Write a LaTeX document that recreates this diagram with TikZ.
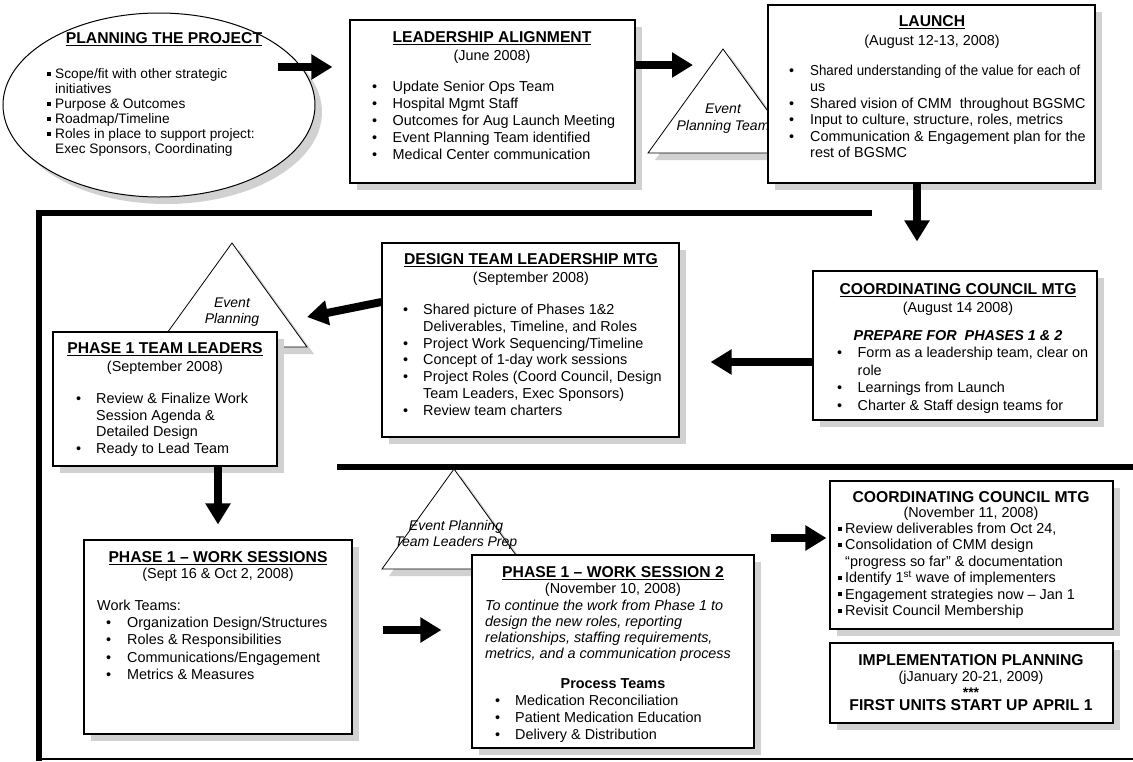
\documentclass[tikz,border=0pt]{standalone}
\usepackage{fontspec}
\usepackage{graphicx}
\setmainfont{Liberation Sans}
\usetikzlibrary{arrows.meta,shadows,shapes.geometric}
\newcommand\bu{\makebox[20.5pt][l]{\textbullet}}
\newcommand\bux{\makebox[21pt][l]{\textbullet}}
\newcommand\ind{\hspace*{20.5pt}}
\newcommand\sq{\makebox[8pt][l]{\rule[2.6pt]{4pt}{4pt}}}
\newcommand\sqind{\hspace*{8pt}}
\newcommand\sqn{\makebox[7pt][l]{\rule[2.6pt]{4pt}{4pt}}}
\newcommand\sqnind{\hspace*{7pt}}
\begin{document}
\begin{tikzpicture}[x=1pt,y=-1pt,
  shadowed/.style={drop shadow={shadow xshift=7pt, shadow yshift=-7pt, fill=black!18, opacity=1}},
  box/.style={draw, line width=1.1pt, fill=white, inner sep=0, rectangle, shadowed},
  body/.style={inner sep=0, align=left, anchor=north west, font=\fontsize{14.4}{16.8}\selectfont},
  ttl/.style={inner sep=0, anchor=base, font=\fontsize{15.7}{18}\selectfont\bfseries},
  sub/.style={inner sep=0, anchor=base, font=\fontsize{14.4}{16.8}\selectfont},
  fat/.style={line width=8pt, -{Triangle[length=21pt,width=24pt]}},
  barline/.style={line width=6.5pt},
  tri/.style={draw, line width=0.8pt, fill=white, shadowed},
  tlab/.style={inner sep=0, anchor=base, font=\fontsize{14}{16}\selectfont\itshape},
]
\useasboundingbox (0,0) rectangle (1133,761);

% frame lines
\draw[barline] (39,761) -- (39,213) -- (872,213);
\draw[line width=2pt] (39,759) -- (1133,759);
\draw[barline] (337,467) -- (1133,467);

% ---------- Planning the project ----------
\node[ellipse, draw, line width=1pt, fill=white, minimum width=312, minimum height=184, inner sep=0, shadowed] (plan) at (159,105) {};
\node[ttl] (planT) at (164,43.6) {\underline{PLANNING THE PROJECT}};
\node[body, font=\fontsize{13.7}{15}\selectfont] (planB) at (47,68) {\sq Scope/fit with other strategic\\ \sqind initiatives\\ \sq Purpose \& Outcomes\\ \sq Roadmap/Timeline\\ \sq Roles in place to support project:\\ \sqind Exec Sponsors, Coordinating};

% ---------- Leadership alignment ----------
\node[box, minimum width=285, minimum height=163] (lead) at (492.5,101.5) {};
\node[ttl] (leadT) at (492,42.6) {\underline{LEADERSHIP ALIGNMENT}};
\node[sub] (leadD) at (492,60) {(June 2008)};
\node[body, font=\fontsize{14.4}{17}\selectfont] (leadB) at (372,80.8) {\bu Update Senior Ops Team\\ \bu Hospital Mgmt Staff\\ \bu Outcomes for Aug Launch Meeting\\ \bu Event Planning Team identified\\ \bu Medical Center communication};

% ---------- Triangle 1 ----------
\coordinate (t1a) at (723,49);
\coordinate (t1r) at (798,153);
\coordinate (t1l) at (648,153);
\coordinate (t1in) at (693,65);
\draw[tri] (t1a) -- (t1r) -- (t1l) -- cycle;
\node[tlab] (t1x) at (723,113) {Event};
\node[tlab] (t1y) at (723,130) {Planning Team};

% ---------- Launch ----------
\node[box, minimum width=327, minimum height=178] (launch) at (931.5,94) {};
\node[ttl] (launchT) at (932,26.6) {\underline{LAUNCH}};
\node[sub] (launchD) at (932,45) {(August 12-13, 2008)};
\node[body, font=\fontsize{14.4}{16.5}\selectfont] (launchB) at (789,64.8) {\bux \scalebox{0.925}[1]{Shared understanding of the value for each of}\\ \hspace*{21pt}us\\ \bux Shared vision of CMM \ throughout BGSMC\\ \bux Input to culture, structure, roles, metrics\\ \bux Communication \& Engagement plan for the\\ \hspace*{21pt}rest of BGSMC};

% top arrows
\draw[fat] ([shift={(-38,-38)}]plan.east) -- ([shift={(-17,-34.5)}]lead.west);
\draw[fat] ([shift={(0,-36.5)}]lead.east) -- (t1in);

% ---------- Coordinating council Aug ----------
\node[box, minimum width=284, minimum height=149] (ccA) at (955,345.5) {};
\node[ttl] (ccAT) at (958,294.6) {\underline{COORDINATING COUNCIL MTG}};
\node[sub] (ccAD) at (958,312) {(August 14 2008)};
\node[sub, font=\fontsize{14.4}{16.8}\selectfont\bfseries\itshape] (ccAP) at (958,340.2) {PREPARE FOR \ PHASES 1 \& 2};
\node[body, font=\fontsize{14.4}{17.7}\selectfont] (ccAB) at (837,346.8) {\bu Form as a leadership team, clear on\\ \ind role\\ \bu Learnings from Launch\\ \bu Charter \& Staff design teams for};

\draw[fat] ([shift={(-14.5,0)}]launch.south) -- ([shift={(-38,-29)}]ccA.north);

% ---------- Design team leadership ----------
\node[box, minimum width=297, minimum height=194] (design) at (530.5,340) {};
\node[ttl] (designT) at (531,264.6) {\underline{DESIGN TEAM LEADERSHIP MTG}};
\node[sub] (designD) at (531,282) {(September 2008)};
\node[body, font=\fontsize{14.4}{16.8}\selectfont] (designB) at (403,303.8) {\makebox[20pt][l]{\textbullet}Shared picture of Phases 1\&2\\ \hspace*{20pt}Deliverables, Timeline, and Roles\\ \makebox[20pt][l]{\textbullet}Project Work Sequencing/Timeline\\ \makebox[20pt][l]{\textbullet}Concept of 1-day work sessions\\ \makebox[20pt][l]{\textbullet}Project Roles (Coord Council, Design\\ \hspace*{20pt}Team Leaders, Exec Sponsors)\\ \makebox[20pt][l]{\textbullet}Review team charters};

\draw[fat] ([shift={(0,16.5)}]ccA.west) -- ([shift={(31,22)}]design.east);

% ---------- Triangle 2 ----------
\coordinate (t2a) at (232,243);
\coordinate (t2r) at (307,347);
\coordinate (t2l) at (157,347);
\coordinate (t2in) at (307,317);
\draw[tri] (t2a) -- (t2r) -- (t2l) -- cycle;
\node[tlab] (t2x) at (232,307) {Event};
\node[tlab] (t2y) at (232,323) {Planning};

\draw[fat] ([shift={(0,-38)}]design.west) -- (t2in);

% ---------- Phase 1 team leaders ----------
\node[box, minimum width=224, minimum height=134] (tl) at (165,399) {};
\node[ttl] (tlT) at (165,353.6) {\underline{PHASE 1 TEAM LEADERS}};
\node[sub] (tlD) at (165,371) {(September 2008)};
\node[body, font=\fontsize{14.4}{16.7}\selectfont] (tlB) at (76,392.8) {\makebox[20pt][l]{\textbullet}Review \& Finalize Work\\ \hspace*{20pt}Session Agenda \&\\ \hspace*{20pt}Detailed Design\\ \makebox[20pt][l]{\textbullet}Ready to Lead Team};

% ---------- Phase 1 work sessions ----------
\node[box, minimum width=268, minimum height=194] (ws) at (218,637) {};
\node[ttl] (wsT) at (218,562.6) {\underline{PHASE 1 -- WORK SESSIONS}};
\node[sub] (wsD) at (218,578) {(Sept 16 \& Oct 2, 2008)};
\node[body, font=\fontsize{14.4}{17.2}\selectfont] (wsB) at (97,599.8) {Work Teams:\\ \hspace*{9pt}\bux Organization Design/Structures\\ \hspace*{9pt}\bux Roles \& Responsibilities\\ \hspace*{9pt}\bux Communications/Engagement\\ \hspace*{9pt}\bux Metrics \& Measures};

\draw[fat] ([shift={(53,0)}]tl.south) -- ([shift={(0,-15)}]ws.north);

% ---------- Triangle 3 ----------
\coordinate (t3a) at (454,469);
\coordinate (t3r) at (526,569);
\coordinate (t3l) at (382,569);
\draw[tri] (t3a) -- (t3r) -- (t3l) -- cycle;
\node[tlab] (t3x) at (456,530) {Event Planning};
\node[tlab] (t3y) at (456,546) {Team Leaders Prep};

% ---------- Phase 1 work session 2 ----------
\node[box, minimum width=282, minimum height=193] (ws2) at (613,651.5) {};
\node[ttl] (ws2T) at (613,577.6) {\underline{PHASE 1 -- WORK SESSION 2}};
\node[sub] (ws2D) at (613,593) {(November 10, 2008)};
\node[body, font=\fontsize{14.4}{16}\selectfont\itshape] (ws2I) at (485,599.8) {To continue the work from Phase 1 to\\ design the new roles, reporting\\ relationships, staffing requirements,\\ metrics, and a communication process};
\node[sub, font=\fontsize{14.4}{16.8}\selectfont\bfseries] (ws2P) at (613,688) {Process Teams};
\node[body, font=\fontsize{14.4}{17}\selectfont] (ws2B) at (495,694.8) {\makebox[20pt][l]{\textbullet}Medication Reconciliation\\ \makebox[20pt][l]{\textbullet}Patient Medication Education\\ \makebox[20pt][l]{\textbullet}Delivery \& Distribution};

\draw[fat] ([shift={(30,-7)}]ws.east) -- ([shift={(-30,-21.5)}]ws2.west);

% ---------- Coordinating council Nov ----------
\node[box, minimum width=283, minimum height=148] (ccN) at (971.5,555) {};
\node[ttl] (ccNT) at (971,502) {COORDINATING COUNCIL MTG};
\node[sub] (ccND) at (971,517.5) {(November 11, 2008)};
\node[body, font=\fontsize{14.4}{16.4}\selectfont] (ccNB) at (838,522.8) {\sqn Review deliverables from Oct 24,\\ \sqn Consolidation of CMM design\\ \sqnind “progress so far” \& documentation\\ \sqn Identify 1\textsuperscript{st} wave of implementers\\ \sqn Engagement strategies now -- Jan 1\\ \sqn Revisit Council Membership};

\draw[fat] ([shift={(16,-113.5)}]ws2.east) -- ([shift={(-3,-17)}]ccN.west);

% ---------- Implementation planning ----------
\node[box, minimum width=283, minimum height=80] (impl) at (971.5,683) {};
\node[ttl] (implT) at (971,665) {IMPLEMENTATION PLANNING};
\node[sub] (implD) at (971,681.5) {(jJanuary 20-21, 2009)};
\node[sub, font=\fontsize{14}{15}\selectfont\bfseries] (implS) at (971,697.5) {***};
\node[ttl] (implF) at (971,710.6) {FIRST UNITS START UP APRIL 1};
\end{tikzpicture}
\end{document}
